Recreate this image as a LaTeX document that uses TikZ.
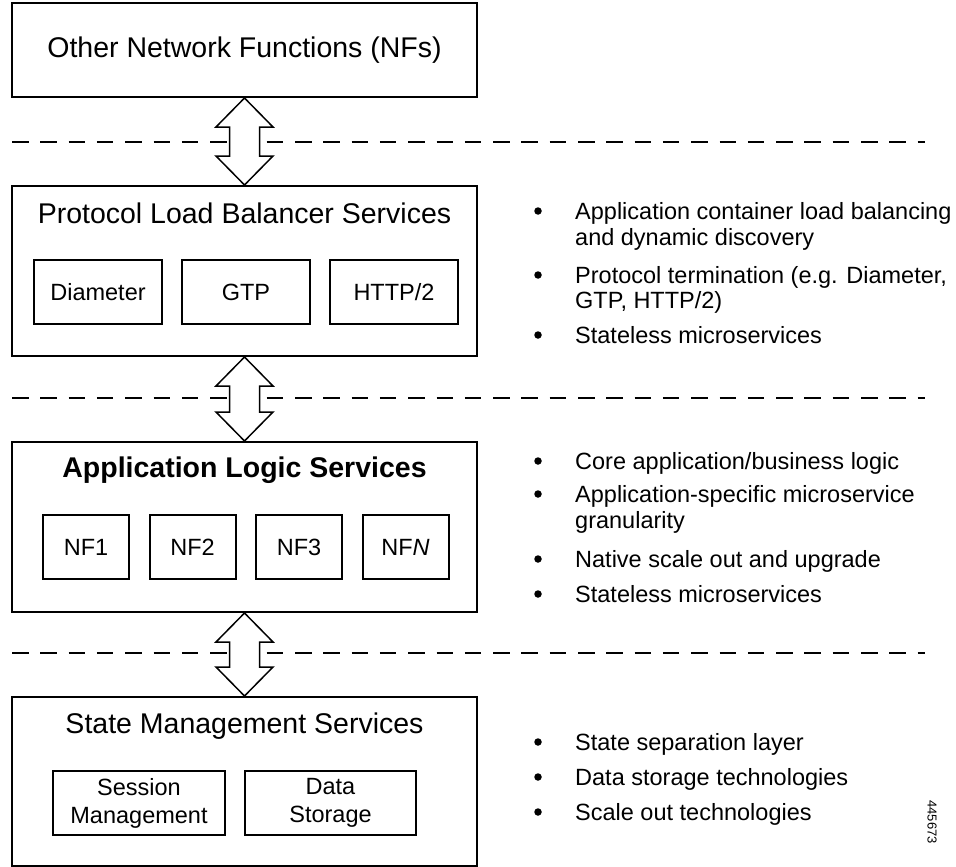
\documentclass[tikz,border=0pt]{standalone}
\usepackage{fontspec}
\setmainfont{Liberation Sans}
\usetikzlibrary{calc,positioning}

\tikzset{
  layer/.style={draw, line width=2pt, minimum width=465pt, inner sep=0pt},
  unit/.style={draw, line width=2pt, minimum height=64pt, inner sep=0pt, align=center,
    font=\fontsize{23.5}{28}\selectfont},
  headline/.style={anchor=base, inner sep=0pt, font=\fontsize{28.5}{34}\selectfont},
  item/.style={anchor=base west, inner sep=0pt, font=\fontsize{23.5}{28}\selectfont},
  dot/.style={circle, fill, inner sep=0pt, minimum size=7.5pt},
  tier/.style={dash pattern=on 16.5pt off 11.8pt, line width=2pt},
  link/.style={draw, fill=white, line width=1.5pt, line join=miter}
}

\begin{document}
\begin{tikzpicture}[x=1pt, y=-1pt]
\useasboundingbox (0,0) rectangle (956,867);

% layers
\node[layer, minimum height=94pt] (nfs) at (244.5,50) {};
\node[headline] (nfs-t) at (244.5,58) {Other Network Functions (NFs)};
\node[layer, minimum height=170pt] (lb) at (244.5,271) {};
\node[headline] (lb-t) at (244.5,223) {Protocol Load Balancer Services};
\node[layer, minimum height=170pt] (app) at (244.5,527) {};
\node[headline] (app-t) at (244.5,477) {\bfseries Application Logic Services};
\node[layer, minimum height=169pt] (state) at (244.5,781.5) {};
\node[headline] (state-t) at (244.5,733) {State Management Services};

% boxes inside the layers
\foreach \n/\cx/\txt in {dia/98/Diameter, gtp/246/GTP, http/394/{HTTP/2}}{
  \node[unit, minimum width=128pt] (\n) at (\cx,292) {\txt};
}
\foreach \i/\cx/\txt in {1/86/NF1, 2/192.5/NF2, 3/299/NF3, 4/405.5/{NF\textit{N}}}{
  \node[unit, minimum width=86pt] (nf\i) at (\cx,547) {\txt};
}
\node[unit, minimum width=172pt] (session) at (139,803) {Session\\Management};
\node[unit, minimum width=171pt] (storage) at (330.5,803) {Data\\Storage};

% separators
\foreach \y in {142,398,653}{
  \draw[tier] (12,\y) -- (925,\y);
}

% double arrows between the layers
\foreach \a/\b in {nfs/lb, lb/app, app/state}{
  \draw[link] (\a.south) -- ++(28.5,29) -- ++(-13.5,0)
    -- ($(\b.north)+(15,-29)$) -- ++(13.5,0) -- (\b.north)
    -- ++(-28.5,-29) -- ++(13.5,0) -- ($(\a.south)+(-15,29)$)
    -- ++(-13.5,0) -- cycle;
}

% notes
\foreach \y in {211,275,335,461,494,559,594,742,777,812}{
  \node[dot] at (538,\y) {};
}
\node[item] (n1) at (575,219) {Application container load balancing};
\node[item] (n2) at (575,245) {and dynamic discovery};
\node[item] (n3) at (575,283) {Protocol termination (e.g. Diameter,};
\node[item] (n4) at (575,308) {GTP, HTTP/2)};
\node[item] (n5) at (575,343) {Stateless microservices};

\node[item] (m1) at (575,469) {Core application/business logic};
\node[item] (m2) at (575,502) {Application-specific microservice};
\node[item] (m3) at (575,528) {granularity};
\node[item] (m4) at (575,567) {Native scale out and upgrade};
\node[item] (m5) at (575,602) {Stateless microservices};

\node[item] (s1) at (575,750) {State separation layer};
\node[item] (s2) at (575,785) {Data storage technologies};
\node[item] (s3) at (575,820) {Scale out technologies};

\node[rotate=-90, inner sep=0pt, font=\fontsize{13}{15}\selectfont] (figid) at (932,822) {445673};
\end{tikzpicture}
\end{document}
